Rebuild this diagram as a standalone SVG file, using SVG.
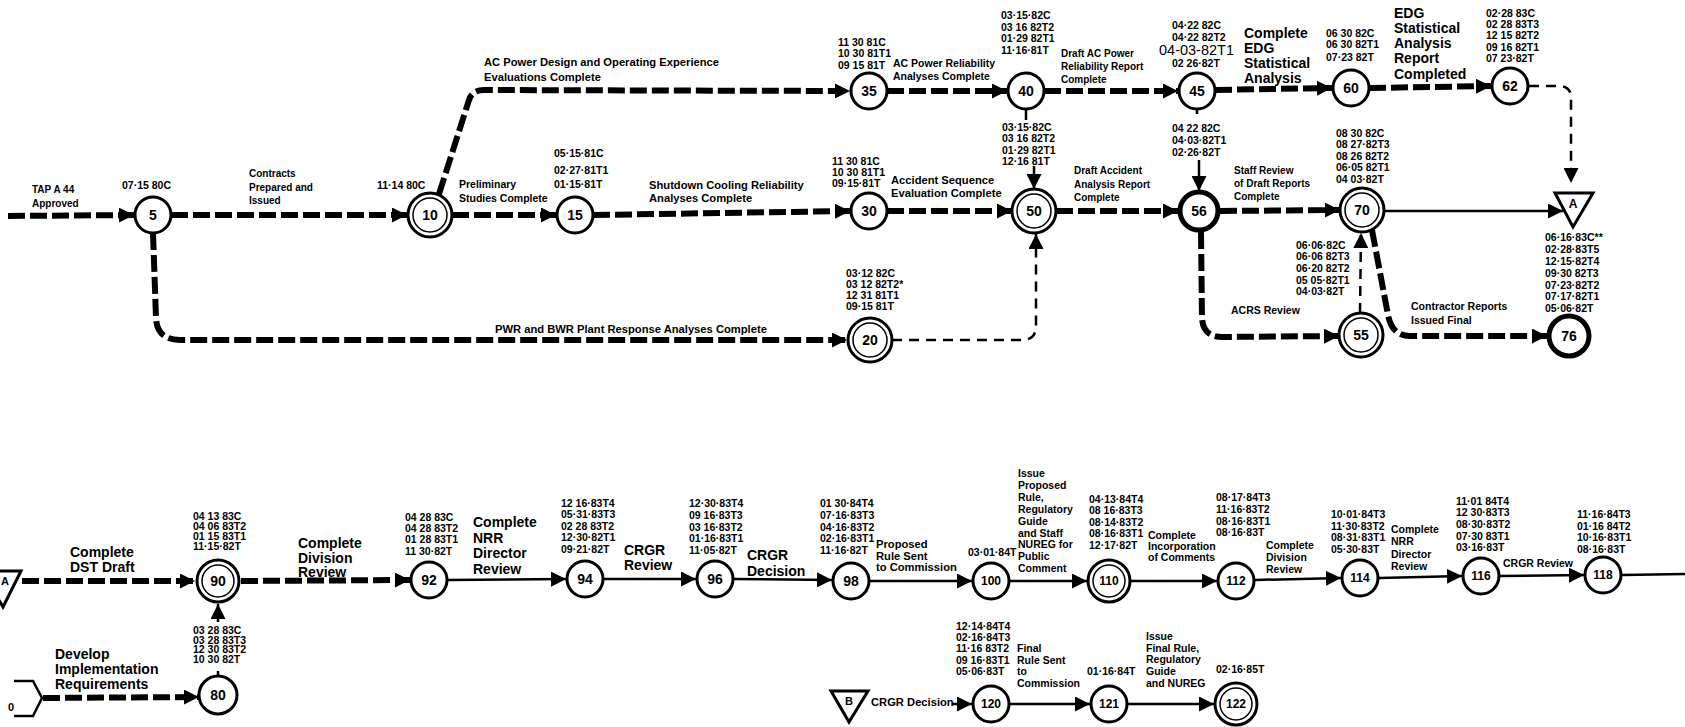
<svg xmlns="http://www.w3.org/2000/svg" width="1685" height="727" viewBox="0 0 1685 727">
<style>
.d{font:bold 10.5px "Liberation Sans",Arial,sans-serif;fill:#000}
.l{font:bold 10.5px "Liberation Sans",Arial,sans-serif;fill:#000}
.lw{font:bold 11.2px "Liberation Sans",Arial,sans-serif;fill:#000}
.L{font:bold 14px "Liberation Sans",Arial,sans-serif;fill:#000}
.n{font:bold 14px "Liberation Sans",Arial,sans-serif;fill:#000;text-anchor:middle}
.n3{font:bold 12px "Liberation Sans",Arial,sans-serif;fill:#000;text-anchor:middle}
.c{fill:#fff;stroke:#000;stroke-width:3}
.ci{fill:none;stroke:#000;stroke-width:1.5}
.ck{fill:#fff;stroke:#000;stroke-width:5}
.crit{fill:none;stroke:#000;stroke-width:6;stroke-dasharray:17 5}
.dash{fill:none;stroke:#000;stroke-width:2.5;stroke-dasharray:10 7}
.sol{fill:none;stroke:#000;stroke-width:2.5}
</style>
<defs>
<marker id="ah" markerUnits="userSpaceOnUse" viewBox="0 0 10 10" markerWidth="15" markerHeight="15" refX="10" refY="5" orient="auto"><path d="M0,0 L10,5 L0,10 z" fill="#000"/></marker>
</defs>
<rect width="1685" height="727" fill="#fff"/>

<g id="connectors">
<path class="crit" d="M8 216 L134 215" marker-end="url(#ah)"/>
<path class="crit" d="M171 215 L407 215" marker-end="url(#ah)"/>
<path class="crit" d="M452 215 L556 215" marker-end="url(#ah)"/>
<path class="crit" d="M439 194 L469 100 Q472 90 484 90 L850 91" marker-end="url(#ah)"/>
<path class="crit" d="M593 215 L850 211" marker-end="url(#ah)"/>
<path class="crit" d="M887 211 L1012 211" marker-end="url(#ah)"/>
<path class="crit" d="M1056 211 L1178 211" marker-end="url(#ah)"/>
<path class="crit" d="M1220 211 L1340 210" marker-end="url(#ah)"/>
<path class="crit" d="M887 91 L1007 91" marker-end="url(#ah)"/>
<path class="crit" d="M1044 91 L1178 91" marker-end="url(#ah)"/>
<path class="crit" d="M1215 90 L1332 88" marker-end="url(#ah)"/>
<path class="crit" d="M1369 88 L1491 86" marker-end="url(#ah)"/>
<path class="crit" d="M153 233 L156 318 Q157 340 180 340 L847 340" marker-end="url(#ah)"/>
<path class="crit" d="M1201 232 L1202 318 Q1203 337 1222 337 L1339 336" marker-end="url(#ah)"/>
<path class="crit" d="M1372 230 L1388 315 Q1392 336 1410 336 L1547 336" marker-end="url(#ah)"/>
<path class="dash" d="M1529 86 L1559 86 Q1571 86 1571 98 L1571 183" marker-end="url(#ah)"/>
<path class="dash" d="M892 340 L1022 340 Q1036 340 1036 326 L1036 234" marker-end="url(#ah)"/>
<path class="dash" d="M1360 313 L1361 233" marker-end="url(#ah)"/>
<path class="sol" d="M1026 109 L1026 120"/>
<path class="sol" d="M1034 166 L1034 189" marker-end="url(#ah)"/>
<path class="sol" d="M1197 109 L1197 114"/>
<path class="sol" d="M1199 160 L1199 191" marker-end="url(#ah)"/>
<path class="sol" d="M1384 211 L1563 211" marker-end="url(#ah)"/>
<path class="crit" d="M22 581 L195 581" marker-end="url(#ah)"/>
<path class="crit" d="M241 581 L410 580" marker-end="url(#ah)"/>
<path class="crit" d="M43 698 L199 697" marker-end="url(#ah)"/>
<path class="sol" d="M448 580 L566 579" marker-end="url(#ah)"/>
<path class="sol" d="M604 579 L696 579" marker-end="url(#ah)"/>
<path class="sol" d="M734 579 L832 580" marker-end="url(#ah)"/>
<path class="sol" d="M870 581 L972 581" marker-end="url(#ah)"/>
<path class="sol" d="M1010 581 L1087 581" marker-end="url(#ah)"/>
<path class="sol" d="M1131 581 L1217 581" marker-end="url(#ah)"/>
<path class="sol" d="M1255 580 L1341 578" marker-end="url(#ah)"/>
<path class="sol" d="M1379 578 L1462 576" marker-end="url(#ah)"/>
<path class="sol" d="M1500 576 L1584 575" marker-end="url(#ah)"/>
<path class="sol" d="M1622 575 L1685 574"/>
<path class="sol" d="M218 677 L218 671"/>
<path class="sol" d="M218 622 L218 604" marker-end="url(#ah)"/>
<path class="sol" d="M952 704 L972 704" marker-end="url(#ah)"/>
<path class="sol" d="M1010 704 L1090 704" marker-end="url(#ah)"/>
<path class="sol" d="M1128 704 L1214 704" marker-end="url(#ah)"/>

<text class="l" x="32" y="193" style="font-size:10px">TAP A 44</text>
<text class="l" x="32" y="207" style="font-size:10px">Approved</text>
<text class="l" x="249" y="177" style="font-size:10px">Contracts<tspan x="249" dy="13.5">Prepared and</tspan><tspan x="249" dy="13.5">Issued</tspan></text>
<text class="lw" x="484" y="66">AC Power Design and Operating Experience<tspan x="484" dy="15">Evaluations Complete</tspan></text>
<text class="l" x="459" y="188">Preliminary<tspan x="459" dy="14">Studies Complete</tspan></text>
<text class="lw" x="649" y="189">Shutdown Cooling Reliability<tspan x="649" dy="13">Analyses Complete</tspan></text>
<text class="l" x="893" y="67">AC Power Reliability<tspan x="893" dy="13">Analyses Complete</tspan></text>
<text class="l" x="1061" y="57" style="font-size:10px">Draft AC Power<tspan x="1061" dy="13">Reliability Report</tspan><tspan x="1061" dy="13">Complete</tspan></text>
<text class="L" x="1244" y="38">Complete<tspan x="1244" dy="15">EDG</tspan><tspan x="1244" dy="15">Statistical</tspan><tspan x="1244" dy="15">Analysis</tspan></text>
<text class="L" x="1394" y="18">EDG<tspan x="1394" dy="15">Statistical</tspan><tspan x="1394" dy="15">Analysis</tspan><tspan x="1394" dy="15">Report</tspan><tspan x="1394" dy="15.5">Completed</tspan></text>
<text class="lw" x="891" y="184">Accident Sequence<tspan x="891" dy="13">Evaluation Complete</tspan></text>
<text class="l" x="1074" y="174" style="font-size:10px">Draft Accident<tspan x="1074" dy="13.5">Analysis Report</tspan><tspan x="1074" dy="13.5">Complete</tspan></text>
<text class="l" x="1234" y="174" style="font-size:10px">Staff Review<tspan x="1234" dy="13">of Draft Reports</tspan><tspan x="1234" dy="13">Complete</tspan></text>
<text class="lw" x="495" y="333">PWR and BWR Plant Response Analyses Complete</text>
<text class="l" x="1231" y="314">ACRS Review</text>
<text class="l" x="1411" y="310">Contractor Reports<tspan x="1411" dy="14">Issued Final</tspan></text>

<text class="L" x="70" y="557">Complete<tspan x="70" dy="15">DST Draft</tspan></text>
<text class="L" x="298" y="548">Complete<tspan x="298" dy="14.5">Division</tspan><tspan x="298" dy="14.5">Review</tspan></text>
<text class="L" x="55" y="659">Develop<tspan x="55" dy="15">Implementation</tspan><tspan x="55" dy="15">Requirements</tspan></text>
<text class="L" x="473" y="527">Complete<tspan x="473" dy="15.5">NRR</tspan><tspan x="473" dy="15.5">Director</tspan><tspan x="473" dy="15.5">Review</tspan></text>
<text class="L" x="624" y="555">CRGR<tspan x="624" dy="15">Review</tspan></text>
<text class="L" x="747" y="560">CRGR<tspan x="747" dy="16">Decision</tspan></text>
<text class="lw" x="876" y="548">Proposed<tspan x="876" dy="11.5">Rule Sent</tspan><tspan x="876" dy="11.5">to Commission</tspan></text>
<text class="l" x="1018" y="477">Issue<tspan x="1018" dy="11.9">Proposed</tspan><tspan x="1018" dy="11.9">Rule,</tspan><tspan x="1018" dy="11.9">Regulatory</tspan><tspan x="1018" dy="11.9">Guide</tspan><tspan x="1018" dy="11.9">and Staff</tspan><tspan x="1018" dy="11.9">NUREG for</tspan><tspan x="1018" dy="11.9">Public</tspan><tspan x="1018" dy="11.9">Comment</tspan></text>
<text class="l" x="1148" y="539">Complete<tspan x="1148" dy="11">Incorporation</tspan><tspan x="1148" dy="11">of Comments</tspan></text>
<text class="l" x="1266" y="549">Complete<tspan x="1266" dy="12">Division</tspan><tspan x="1266" dy="12">Review</tspan></text>
<text class="l" x="1391" y="533">Complete<tspan x="1391" dy="12.3">NRR</tspan><tspan x="1391" dy="12.3">Director</tspan><tspan x="1391" dy="12.3">Review</tspan></text>
<text class="l" x="1503" y="567">CRGR Review</text>
<text class="lw" x="871" y="706">CRGR Decision</text>
<text class="l" x="1017" y="652">Final<tspan x="1017" dy="11.7">Rule Sent</tspan><tspan x="1017" dy="11.7">to</tspan><tspan x="1017" dy="11.7">Commission</tspan></text>
<text class="l" x="1146" y="640">Issue<tspan x="1146" dy="11.7">Final Rule,</tspan><tspan x="1146" dy="11.7">Regulatory</tspan><tspan x="1146" dy="11.7">Guide</tspan><tspan x="1146" dy="11.7">and NUREG</tspan></text>
</g>

<g id="n5"><circle class="c" cx="153" cy="215" r="18"/><text class="n" x="153" y="220">5</text><text class="d" x="122" y="189">07·15 80C</text></g>
<g id="n10"><circle class="c" cx="430" cy="215" r="22"/><circle class="ci" cx="430" cy="215" r="17"/><text class="n" x="430" y="220">10</text><text class="d" x="377" y="189">11·14 80C</text></g>
<g id="n15"><circle class="c" cx="575" cy="215" r="18"/><text class="n" x="575" y="220">15</text><text class="d" x="554" y="157">05·15·81C</text><text class="d" x="554" y="174">02·27·81T1</text><text class="d" x="554" y="188">01·15·81T</text></g>
<g id="n35"><circle class="c" cx="869" cy="91" r="18"/><text class="n" x="869" y="96">35</text><text class="d" x="838" y="46">11 30 81C</text><text class="d" x="838" y="57">10 30 81T1</text><text class="d" x="838" y="69">09 15 81T</text></g>
<g id="n30"><circle class="c" cx="869" cy="211" r="18"/><text class="n" x="869" y="216">30</text><text class="d" x="832" y="165">11 30 81C</text><text class="d" x="832" y="176">10 30 81T1</text><text class="d" x="832" y="187">09·15·81T</text></g>
<g id="n40"><circle class="c" cx="1026" cy="91" r="18"/><text class="n" x="1026" y="96">40</text><text class="d" x="1001" y="19">03·15·82C</text><text class="d" x="1001" y="30.5">03 16 82T2</text><text class="d" x="1001" y="42">01·29 82T1</text><text class="d" x="1001" y="53.5">11·16·81T</text></g>
<g id="n50"><circle class="c" cx="1034" cy="211" r="22"/><circle class="ci" cx="1034" cy="211" r="17"/><text class="n" x="1034" y="216">50</text><text class="d" x="1002" y="131">03·15·82C</text><text class="d" x="1002" y="142">03 16 82T2</text><text class="d" x="1002" y="154">01·29 82T1</text><text class="d" x="1002" y="165">12·16 81T</text></g>
<g id="n45"><circle class="c" cx="1197" cy="91" r="18"/><text class="n" x="1197" y="96">45</text><text class="d" x="1172" y="29">04·22 82C</text><text class="d" x="1172" y="41">04·22 82T2</text><text x="1159" y="55" style="font:500 14.5px 'Liberation Sans',Arial,sans-serif">04-03-82T1</text><text class="d" x="1172" y="67">02 26·82T</text></g>
<g id="n56"><circle class="ck" cx="1199" cy="211" r="19"/><text class="n" x="1199" y="216">56</text><text class="d" x="1172" y="132">04 22 82C</text><text class="d" x="1172" y="144">04·03·82T1</text><text class="d" x="1172" y="156">02·26·82T</text></g>
<g id="n60"><circle class="c" cx="1351" cy="88" r="18"/><text class="n" x="1351" y="93">60</text><text class="d" x="1326" y="37">06 30 82C</text><text class="d" x="1326" y="48">06 30 82T1</text><text class="d" x="1326" y="61">07·23 82T</text></g>
<g id="n62"><circle class="c" cx="1510" cy="86" r="18"/><text class="n" x="1510" y="91">62</text><text class="d" x="1486" y="17">02·28 83C</text><text class="d" x="1486" y="28">02 28 83T3</text><text class="d" x="1486" y="39">12 15 82T2</text><text class="d" x="1486" y="51">09 16 82T1</text><text class="d" x="1486" y="62">07 23·82T</text></g>
<g id="n70"><circle class="c" cx="1362" cy="210" r="22"/><circle class="ci" cx="1362" cy="210" r="17"/><text class="n" x="1362" y="215">70</text><text class="d" x="1336" y="137">08 30 82C</text><text class="d" x="1336" y="148">08 27·82T3</text><text class="d" x="1336" y="160">08 26 82T2</text><text class="d" x="1336" y="171">06·05 82T1</text><text class="d" x="1336" y="183">04 03·82T</text></g>
<g id="nA"><polygon class="c" points="1555,193 1593,193 1573,227"/><text class="n" x="1573" y="208" style="font-size:12px">A</text></g>
<g id="n20"><circle class="c" cx="870" cy="340" r="22"/><circle class="ci" cx="870" cy="340" r="17"/><text class="n" x="870" y="345">20</text><text class="d" x="846" y="277">03·12 82C</text><text class="d" x="846" y="287.5">03 12 82T2*</text><text class="d" x="846" y="299">12 31 81T1</text><text class="d" x="846" y="310">09·15 81T</text></g>
<g id="n55"><circle class="c" cx="1361" cy="335" r="22"/><circle class="ci" cx="1361" cy="335" r="17"/><text class="n" x="1361" y="340">55</text><text class="d" x="1296" y="249">06·06·82C</text><text class="d" x="1296" y="260">06·06 82T3</text><text class="d" x="1296" y="272">06·20 82T2</text><text class="d" x="1296" y="284">05 05·82T1</text><text class="d" x="1296" y="295">04·03·82T</text></g>
<g id="n76"><circle class="ck" cx="1569" cy="336" r="20"/><text class="n" x="1569" y="341">76</text><text class="d" x="1545" y="241">06·16·83C**</text><text class="d" x="1545" y="253">02·28·83T5</text><text class="d" x="1545" y="265">12·15·82T4</text><text class="d" x="1545" y="277">09·30 82T3</text><text class="d" x="1545" y="289">07·23·82T2</text><text class="d" x="1545" y="300">07·17·82T1</text><text class="d" x="1545" y="312">05·06·82T</text></g>

<g id="nA2"><polygon class="c" points="-18,571 21,571 3,607"/><text class="n" x="5" y="585" style="font-size:11px">A</text></g>
<g id="nX"><polyline class="sol" points="14,681 33,681 42,698 33,716 14,716"/><text class="n" x="11" y="711" style="font-size:11px">0</text></g>
<g id="n90"><circle class="c" cx="218" cy="581" r="21"/><circle class="ci" cx="218" cy="581" r="16"/><text class="n" x="218" y="586">90</text><text class="d" x="193" y="520">04 13 83C</text><text class="d" x="193" y="530">04 06 83T2</text><text class="d" x="193" y="540">01 15 83T1</text><text class="d" x="193" y="550">11·15·82T</text></g>
<g id="n80"><circle class="c" cx="218" cy="695" r="19"/><text class="n" x="218" y="700">80</text><text class="d" x="193" y="634">03 28 83C</text><text class="d" x="193" y="643.5">03 28 83T3</text><text class="d" x="193" y="653">12 30 83T2</text><text class="d" x="193" y="662.5">10 30 82T</text></g>
<g id="n92"><circle class="c" cx="429" cy="580" r="18"/><text class="n" x="429" y="585">92</text><text class="d" x="405" y="521">04 28 83C</text><text class="d" x="405" y="532">04 28 83T2</text><text class="d" x="405" y="543">01 28 83T1</text><text class="d" x="405" y="555">11 30·82T</text></g>
<g id="n94"><circle class="c" cx="585" cy="579" r="18"/><text class="n" x="585" y="584">94</text><text class="d" x="561" y="507">12 16·83T4</text><text class="d" x="561" y="518">05·31·83T3</text><text class="d" x="561" y="530">02 28 83T2</text><text class="d" x="561" y="541">12·30·82T1</text><text class="d" x="561" y="553">09·21·82T</text></g>
<g id="n96"><circle class="c" cx="715" cy="579" r="18"/><text class="n" x="715" y="584">96</text><text class="d" x="689" y="507">12·30·83T4</text><text class="d" x="689" y="519">09 16·83T3</text><text class="d" x="689" y="531">03 16·83T2</text><text class="d" x="689" y="542">01·16·83T1</text><text class="d" x="689" y="554">11·05·82T</text></g>
<g id="n98"><circle class="c" cx="851" cy="581" r="18"/><text class="n" x="851" y="586">98</text><text class="d" x="820" y="507">01 30·84T4</text><text class="d" x="820" y="519">07·16·83T3</text><text class="d" x="820" y="531">04·16·83T2</text><text class="d" x="820" y="542">02·16·83T1</text><text class="d" x="820" y="554">11·16·82T</text></g>
<g id="n100"><circle class="c" cx="991" cy="581" r="18"/><text class="n3" x="991" y="585">100</text><text class="d" x="968" y="556">03·01·84T</text></g>
<g id="n110"><circle class="c" cx="1109" cy="581" r="21"/><circle class="ci" cx="1109" cy="581" r="16"/><text class="n3" x="1109" y="585">110</text><text class="d" x="1089" y="503">04·13·84T4</text><text class="d" x="1089" y="514">08 16·83T3</text><text class="d" x="1089" y="525.5">08·14·83T2</text><text class="d" x="1089" y="537">08·16·83T1</text><text class="d" x="1089" y="549">12·17·82T</text></g>
<g id="n112"><circle class="c" cx="1236" cy="581" r="18"/><text class="n3" x="1236" y="585">112</text><text class="d" x="1216" y="501">08·17·84T3</text><text class="d" x="1216" y="513">11·16·83T2</text><text class="d" x="1216" y="525">08·16·83T1</text><text class="d" x="1216" y="536">08·16·83T</text></g>
<g id="n114"><circle class="c" cx="1360" cy="578" r="18"/><text class="n3" x="1360" y="582">114</text><text class="d" x="1331" y="518">10·01·84T3</text><text class="d" x="1331" y="530">11·30·83T2</text><text class="d" x="1331" y="541">08·31·83T1</text><text class="d" x="1331" y="553">05·30·83T</text></g>
<g id="n116"><circle class="c" cx="1481" cy="576" r="18"/><text class="n3" x="1481" y="580">116</text><text class="d" x="1456" y="505">11·01 84T4</text><text class="d" x="1456" y="516">12 30·83T3</text><text class="d" x="1456" y="528">08·30·83T2</text><text class="d" x="1456" y="540">07·30 83T1</text><text class="d" x="1456" y="551">03·16·83T</text></g>
<g id="n118"><circle class="c" cx="1603" cy="575" r="18"/><text class="n3" x="1603" y="579">118</text><text class="d" x="1577" y="518">11·16·84T3</text><text class="d" x="1577" y="530">01·16 84T2</text><text class="d" x="1577" y="541">10·16·83T1</text><text class="d" x="1577" y="553">08·16·83T</text></g>
<g id="nB"><polygon class="c" points="831,691 868,691 849,722"/><text class="n" x="849" y="705" style="font-size:11px">B</text></g>
<g id="n120"><circle class="c" cx="991" cy="704" r="18"/><text class="n3" x="991" y="708">120</text><text class="d" x="956" y="630">12·14·84T4</text><text class="d" x="956" y="641">02·16·84T3</text><text class="d" x="956" y="652">11·16 83T2</text><text class="d" x="956" y="663.5">09 16·83T1</text><text class="d" x="956" y="675">05·06·83T</text></g>
<g id="n121"><circle class="c" cx="1109" cy="704" r="18"/><text class="n3" x="1109" y="708">121</text><text class="d" x="1087" y="675">01·16·84T</text></g>
<g id="n122"><circle class="c" cx="1236" cy="704" r="21"/><circle class="ci" cx="1236" cy="704" r="16"/><text class="n3" x="1236" y="708">122</text><text class="d" x="1216" y="673">02·16·85T</text></g>
</svg>
